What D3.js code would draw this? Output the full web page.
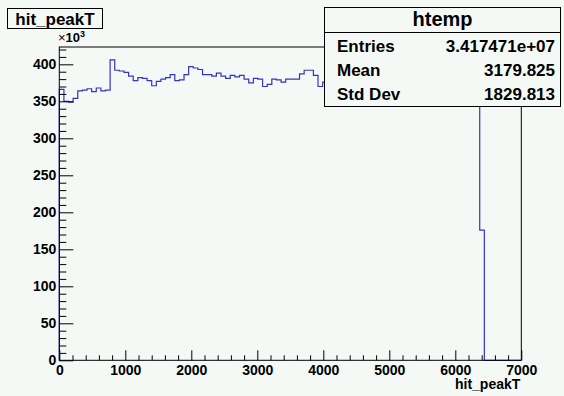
<!DOCTYPE html>
<html>
<head>
<meta charset="utf-8">
<script src="https://cdn.jsdelivr.net/npm/d3@7"></script>
<style>
  body { margin: 0; background: #f5f9f6; }
  svg { display: block; font-family: "Liberation Sans", Arial, Helvetica, sans-serif; }
</style>
</head>
<body>
<div id="chart"></div>
<script>
// histogram bin contents (x1000), 100 bins of width 70 over 0..7000
var binWidth = 70;
var counts = [
  366, 350, 349, 354, 364, 365, 367, 363, 368, 364,
  365, 406, 392, 391, 389, 384, 378, 382, 381, 378,
  371, 377, 380, 382, 386, 378, 379, 386, 397, 395,
  393, 386, 386, 384, 388, 384, 381, 385, 383, 385,
  380, 375, 381, 380, 370, 373, 380, 379, 376, 380,
  380, 380, 387, 392, 392, 385, 370, 376, 378, 381,
  374, 379, 383, 377, 372, 380, 376, 371, 378, 374,
  369, 375, 379, 372, 368, 374, 370, 366, 373, 369,
  364, 371, 367, 362, 368, 365, 360, 366, 362, 358,
  364, 176, 0, 0, 0, 0, 0, 0, 0, 0
];
var xTicks = [0, 1000, 2000, 3000, 4000, 5000, 6000, 7000];
var yTicks = [0, 50, 100, 150, 200, 250, 300, 350, 400];
var statLabels = ["Entries", "Mean", "Std Dev"];
var statValues = ["3.417471e+07", "3179.825", "1829.813"];

var W = 564, H = 396;
var frame = {left: 59.3, right: 521.3, top: 47, bottom: 360.3};

var svg = d3.select("#chart").append("svg")
  .attr("width", W).attr("height", H);

svg.append("rect").attr("width", W).attr("height", H).attr("fill", "#f5f9f6");

var x = d3.scaleLinear().domain([0, 7000]).range([frame.left, frame.right]);
var y = d3.scaleLinear().domain([0, 423.4]).range([frame.bottom, frame.top]);

// histogram outline
var pts = [[x(0), y(0)]];
counts.forEach(function(c, i) {
  pts.push([x(i * binWidth), y(c)]);
  pts.push([x((i + 1) * binWidth), y(c)]);
});
svg.append("path")
  .attr("d", d3.line()(pts))
  .attr("fill", "none")
  .attr("stroke", "#3434c4")
  .attr("stroke-width", 1.2);

// frame
svg.append("rect")
  .attr("x", frame.left).attr("y", frame.top)
  .attr("width", frame.right - frame.left).attr("height", frame.bottom - frame.top)
  .attr("fill", "none").attr("stroke", "#000").attr("stroke-width", 1);

// x axis
var xAxis = svg.append("g")
  .attr("transform", "translate(0," + frame.bottom + ")")
  .call(d3.axisBottom(x)
    .tickValues(d3.range(0, 7001, 200))
    .tickSize(-10).tickPadding(5)
    .tickFormat(function(d) { return xTicks.indexOf(d) >= 0 ? d : ""; }));
xAxis.select(".domain").remove();
xAxis.selectAll(".tick line")
  .attr("y2", function(d) { return d % 1000 === 0 ? -10 : -5; })
  .attr("stroke", "#000");
xAxis.selectAll("text")
  .attr("font-size", 14).attr("font-weight", "bold").attr("fill", "#000")
  .attr("font-family", "Liberation Sans, Arial, sans-serif");

// y axis
var yAxis = svg.append("g")
  .attr("transform", "translate(" + frame.left + ",0)")
  .call(d3.axisLeft(y)
    .tickValues(d3.range(0, 421, 10))
    .tickSize(-14).tickPadding(3)
    .tickFormat(function(d) { return yTicks.indexOf(d) >= 0 ? d : ""; }));
yAxis.select(".domain").remove();
yAxis.selectAll(".tick line")
  .attr("x2", function(d) { return d % 50 === 0 ? 14 : 7; })
  .attr("stroke", "#000");
yAxis.selectAll("text")
  .attr("font-size", 14).attr("font-weight", "bold").attr("fill", "#000")
  .attr("font-family", "Liberation Sans, Arial, sans-serif");

// x10^3 exponent
var expo = svg.append("text").attr("x", 58).attr("y", 42)
  .attr("font-size", 13).attr("font-weight", "bold");
expo.append("tspan").attr("font-weight", "normal").text("\u00d7");
expo.append("tspan").text("10");
expo.append("tspan").attr("dy", -5).attr("font-size", 9).text("3");

// x axis title
svg.append("text")
  .attr("x", frame.right - 1).attr("y", 389)
  .attr("text-anchor", "end")
  .attr("font-size", 14).attr("font-weight", "bold")
  .text("hit_peakT");

// title box
svg.append("rect")
  .attr("x", 7.5).attr("y", 8.5).attr("width", 95).attr("height", 20)
  .attr("fill", "#f5f9f6").attr("stroke", "#000");
svg.append("text")
  .attr("x", 55).attr("y", 24.5)
  .attr("text-anchor", "middle")
  .attr("font-size", 17).attr("font-weight", "bold")
  .text("hit_peakT");

// stats box
var sb = {x: 324.5, y: 7.5, w: 236, h: 99};
svg.append("rect")
  .attr("x", sb.x).attr("y", sb.y).attr("width", sb.w).attr("height", sb.h)
  .attr("fill", "#f5f9f6").attr("stroke", "#000");
svg.append("line")
  .attr("x1", sb.x).attr("x2", sb.x + sb.w)
  .attr("y1", 32.5).attr("y2", 32.5)
  .attr("stroke", "#000");
svg.append("text")
  .attr("x", sb.x + sb.w / 2).attr("y", 26)
  .attr("text-anchor", "middle")
  .attr("font-size", 20).attr("font-weight", "bold")
  .text("htemp");

var rowY = d3.scaleLinear().domain([0, 2]).range([52, 100]);
svg.selectAll(".slabel").data(statLabels).enter().append("text")
  .attr("x", 337).attr("y", function(d, i) { return rowY(i); })
  .attr("font-size", 17).attr("font-weight", "bold")
  .text(function(d) { return d; });
svg.selectAll(".svalue").data(statValues).enter().append("text")
  .attr("x", 555).attr("y", function(d, i) { return rowY(i); })
  .attr("text-anchor", "end")
  .attr("font-size", 17).attr("font-weight", "bold")
  .text(function(d) { return d; });
</script>
</body>
</html>
